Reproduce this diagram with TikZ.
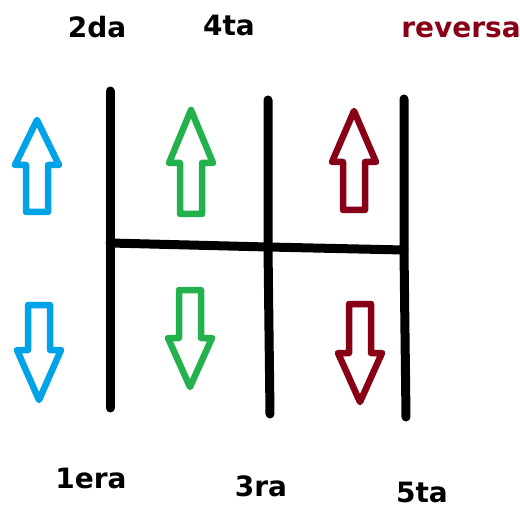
\documentclass[tikz,border=0pt]{standalone}
\usepackage{fontspec}
\setmainfont{DejaVu Sans}
\usetikzlibrary{calc}
\definecolor{cOne}{HTML}{00A2E8}
\definecolor{cTwo}{HTML}{22B14C}
\definecolor{cRev}{HTML}{880015}
\tikzset{
  gate/.style={line width=9pt, line cap=round, line join=round, black},
  gearlbl/.style={anchor=base, inner sep=0pt, font=\fontsize{28}{28}\selectfont\bfseries},
  hollow/.style={line width=6.5pt, line join=round, fill=white},
}
% hollow block arrow: colour, centre x, tip y, head base y, shaft end y
\newcommand{\shiftarrow}[5]{%
  \draw[hollow, draw=#1] (#2,#3) -- (#2+22,#4) -- (#2+11,#4) -- (#2+11,#5)
    -- (#2-11,#5) -- (#2-11,#4) -- (#2-22,#4) -- cycle;}

\begin{document}
\begin{tikzpicture}[x=1pt, y=-1pt]
  \useasboundingbox (0,0) rectangle (520,508);

  % gate
  \coordinate (aTop) at (110,91);
  \coordinate (aBot) at (110,408);
  \coordinate (bTop) at (268,100);
  \coordinate (bMid) at (268,247);
  \coordinate (bBot) at (270,414);
  \coordinate (cTop) at (404,99);
  \coordinate (cMid) at (404,250);
  \coordinate (cBot) at (406,417);
  \coordinate (aMid) at (110,243);
  \draw[gate] (aTop) -- (aBot);
  \draw[gate] (bTop) -- (bMid) -- (bBot);
  \draw[gate] (cTop) -- (cMid) -- (cBot);
  \draw[gate] (aMid) -- (bMid) -- (cMid);

  % arrows
  \shiftarrow{cOne}{37}{120}{165}{212}
  \shiftarrow{cOne}{39}{400}{350}{305}
  \shiftarrow{cTwo}{191}{110}{163}{214}
  \shiftarrow{cTwo}{190}{387}{338}{290}
  \shiftarrow{cRev}{354}{111}{162}{210}
  \shiftarrow{cRev}{360}{402}{353}{304}

  % labels
  \node[gearlbl] (second) at (97,38) {2da};
  \node[gearlbl] (fourth) at (229,36) {4ta};
  \node[gearlbl, text=cRev] (reverse) at (461,38) {reversa};
  \node[gearlbl] (first) at (91,488) {1era};
  \node[gearlbl] (third) at (261,496) {3ra};
  \node[gearlbl] (fifth) at (422,502) {5ta};
\end{tikzpicture}
\end{document}
